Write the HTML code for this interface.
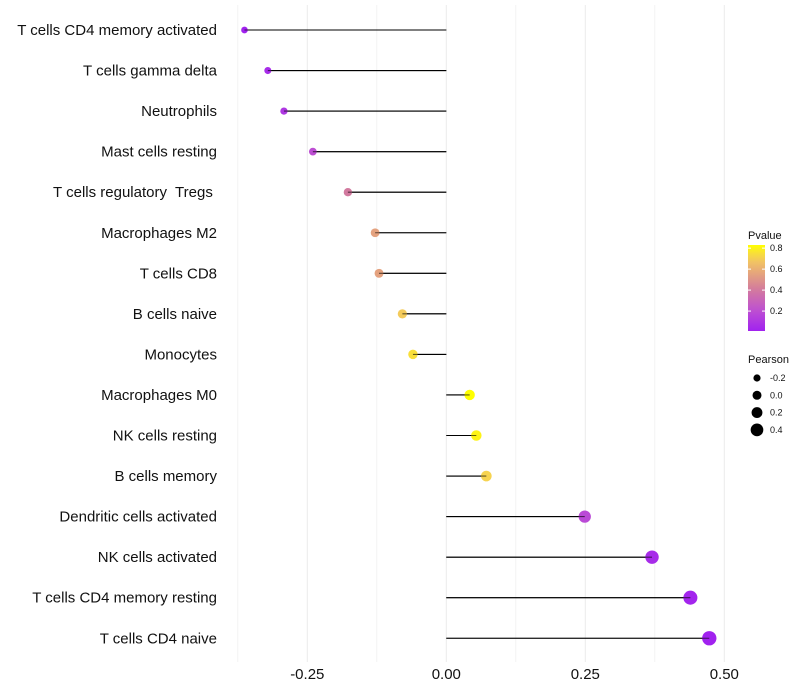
<!DOCTYPE html>
<html><head><meta charset="utf-8"><style>
body{margin:0;background:#fff;}
svg{display:block;font-family:"Liberation Sans",sans-serif;}
</style></head><body>
<svg id="chart" width="800" height="700"></svg>
<script>
const categories=["T cells CD4 memory activated","T cells gamma delta","Neutrophils","Mast cells resting","T cells regulatory  Tregs ","Macrophages M2","T cells CD8","B cells naive","Monocytes","Macrophages M0","NK cells resting","B cells memory","Dendritic cells activated","NK cells activated","T cells CD4 memory resting","T cells CD4 naive"];
const pearson=[-0.363,-0.321,-0.292,-0.240,-0.177,-0.128,-0.121,-0.079,-0.060,0.042,0.054,0.072,0.249,0.370,0.439,0.473];
const pvalue=[0.01,0.05,0.1,0.2,0.4,0.55,0.55,0.7,0.75,0.83,0.8,0.72,0.18,0.05,0.02,0.01];
const xTicks=[-0.25,0,0.25,0.5];
const xTickLabels=["-0.25","0.00","0.25","0.50"];
const xMinor=[-0.375,-0.125,0.125,0.375];
const colorTicks=[0.2,0.4,0.6,0.8];
const sizeTicks=[-0.2,0.0,0.2,0.4];
const NS="http://www.w3.org/2000/svg";
const svg=document.getElementById('chart');
const x=v=>446.3+v*556;
const y=i=>30+i*40.55;
const r=p=>Math.max(1.8,5+4.6*p);
function lerp(a,b,t){return a.map((v,i)=>Math.round(v+(b[i]-v)*t));}
const stops=[[0,[160,32,240]],[0.25,[190,80,210]],[0.5,[212,125,155]],[0.7,[232,170,120]],[0.85,[245,205,90]],[1,[255,255,0]]];
function col(p){const t=Math.max(0,Math.min(1,p/0.83));for(let k=1;k<stops.length;k++){if(t<=stops[k][0]){const a=stops[k-1],b=stops[k];return `rgb(${lerp(a[1],b[1],(t-a[0])/(b[0]-a[0]))})`;}}return 'rgb(255,255,0)';}
function el(tag,a,parent){const e=document.createElementNS(NS,tag);for(const k in a)e.setAttribute(k,a[k]);(parent||svg).appendChild(e);return e;}
const grid=el('g',{});


xMinor.forEach(v=>{el('line',{x1:x(v),x2:x(v),y1:5,y2:662,stroke:'#f3f3f3','stroke-width':1},grid);});
xTicks.forEach(v=>{el('line',{x1:x(v),x2:x(v),y1:5,y2:662,stroke:'#ebebeb','stroke-width':1},grid);});
const xa=el('g',{});


xTicks.forEach((v,i)=>{const t=el('text',{x:x(v),y:679,'text-anchor':'middle','font-size':15,fill:'#111'},xa);t.textContent=xTickLabels[i];});
const ya=el('g',{});


categories.forEach((c,i)=>{const t=el('text',{x:217,y:y(i)+5,'text-anchor':'end','font-size':15,fill:'#111',style:'white-space:pre'},ya);t.textContent=c;});
const marks=el('g',{});


pearson.forEach((v,i)=>{
 const l=el('line',{x1:x(0),x2:x(v),y1:y(i),y2:y(i),stroke:'#000','stroke-width':1.1},marks);
 
 
 const c=el('circle',{cx:x(v),cy:y(i),r:r(v),fill:col(pvalue[i])},marks);
 
 
 el('line',{x1:x(0),x2:x(v),y1:y(i),y2:y(i),stroke:'#000','stroke-width':1.1,'stroke-opacity':0.6},marks);
});
const lg=el('g',{});


let t=el('text',{x:748,y:239,'font-size':11,fill:'#111'},lg);t.textContent='Pvalue';
const defs=el('defs',{});
const gr=el('linearGradient',{id:'g',x1:0,y1:1,x2:0,y2:0},defs);
[0,0.1,0.2,0.3,0.4,0.5,0.6,0.7,0.8,0.9,1].forEach(s=>el('stop',{offset:s,'stop-color':col(0.01+s*0.82)},gr));
el('rect',{x:748,y:245,width:17,height:86,fill:'url(#g)'},lg);
const cy=p=>331-(p-0.01)/0.82*86;
colorTicks.forEach(p=>{el('line',{x1:748,x2:751,y1:cy(p),y2:cy(p),stroke:'#fff'},lg);el('line',{x1:762,x2:765,y1:cy(p),y2:cy(p),stroke:'#fff'},lg);const tt=el('text',{x:770,y:cy(p)+3,'font-size':9,fill:'#111'},lg);tt.textContent=p.toFixed(1);});
const sg=el('g',{});


t=el('text',{x:748,y:363,'font-size':11,fill:'#111'},sg);t.textContent='Pearson';
sizeTicks.forEach((p,i)=>{const yy=378+i*17.3;el('circle',{cx:757,cy:yy,r:r(p)-0.5,fill:'#000'},sg);const tt=el('text',{x:770,y:yy+3,'font-size':9,fill:'#111'},sg);tt.textContent=p.toFixed(1);});
</script>
</body></html>
